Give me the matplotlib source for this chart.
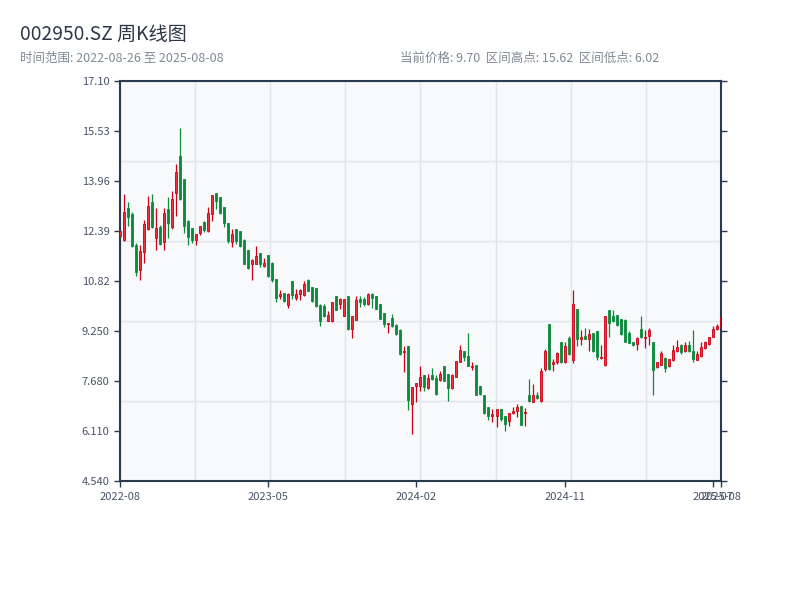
import pandas as pd
import numpy as np
import matplotlib
matplotlib.use('Agg')
import matplotlib.pyplot as plt

plt.rcParams['font.family'] = ['Noto Sans CJK SC', 'DejaVu Sans']

# weekly OHLC, 002950.SZ
opens = [12.25, 12.12, 13.11, 12.94, 11.94, 11.18, 11.73, 12.45, 13.30, 12.18,
         12.52, 12.05, 13.07, 12.52, 13.57, 14.74, 14.04, 12.70, 12.50, 12.12,
         12.33, 12.68, 12.39, 12.94, 13.57, 13.45, 13.13, 12.63, 12.05, 12.46,
         12.38, 12.10, 11.79, 11.37, 11.37, 11.71, 11.28, 11.63, 11.40, 10.88,
         10.34, 10.46, 10.08, 10.82, 10.30, 10.40, 10.37, 10.86, 10.63, 10.61,
         10.07, 10.03, 9.58, 9.56, 10.36, 10.11, 9.74, 10.36, 9.32, 9.60,
         10.25, 10.27, 10.09, 10.40, 10.36, 10.09, 9.83, 9.46, 9.67, 9.45,
         9.29, 8.59, 8.77, 6.96, 7.52, 7.52, 7.88, 7.45, 7.86, 7.78,
         7.72, 8.14, 7.91, 7.47, 7.82, 8.29, 8.64, 8.48, 8.12, 8.19,
         7.54, 7.26, 6.88, 6.60, 6.60, 6.81, 6.60, 6.44, 6.67, 6.75,
         6.91, 6.67, 7.23, 7.04, 7.26, 7.05, 8.06, 9.48, 8.22, 8.27,
         8.90, 8.27, 9.04, 8.33, 9.95, 9.01, 9.11, 9.01, 9.20, 9.24,
         8.41, 8.20, 9.90, 9.71, 9.77, 9.64, 9.60, 9.20, 8.90, 8.85,
         9.32, 9.03, 9.10, 8.92, 8.12, 8.20, 8.41, 8.14, 8.33, 8.64,
         8.80, 8.64, 8.80, 8.64, 8.35, 8.48, 8.72, 8.85, 9.08, 9.32,
         9.42]
closes = [12.38, 12.99, 12.82, 11.92, 11.09, 11.76, 12.60, 13.19, 12.52, 12.48,
          12.00, 12.96, 12.64, 13.41, 14.23, 13.41, 12.54, 12.20, 12.12, 12.31,
          12.54, 12.41, 12.97, 13.52, 13.34, 12.96, 12.63, 12.08, 12.29, 12.07,
          11.92, 11.37, 11.24, 11.49, 11.60, 11.37, 11.39, 10.97, 10.84, 10.30,
          10.42, 10.21, 10.42, 10.37, 10.40, 10.53, 10.74, 10.51, 10.19, 10.03,
          9.58, 9.72, 9.77, 10.15, 9.92, 10.25, 10.25, 9.32, 9.74, 10.24,
          10.16, 10.11, 10.40, 10.30, 9.95, 9.64, 9.48, 9.51, 9.40, 9.17,
          8.54, 8.64, 7.10, 7.51, 7.61, 7.80, 7.51, 7.79, 7.74, 7.28,
          7.91, 7.70, 7.47, 7.88, 8.30, 8.66, 8.43, 8.15, 8.17, 7.23,
          7.28, 6.67, 6.60, 6.65, 6.81, 6.49, 6.34, 6.67, 6.75, 6.86,
          6.31, 6.72, 7.05, 7.23, 7.15, 7.99, 8.64, 8.06, 8.27, 8.56,
          8.27, 8.77, 8.54, 10.11, 9.00, 9.08, 9.01, 9.17, 8.62, 8.45,
          8.45, 9.71, 9.50, 9.58, 9.43, 9.17, 8.92, 8.87, 8.80, 9.04,
          9.06, 9.08, 9.29, 8.03, 8.27, 8.56, 8.10, 8.38, 8.66, 8.74,
          8.59, 8.80, 8.64, 8.38, 8.54, 8.74, 8.90, 9.08, 9.32, 9.40,
          9.70]
highs = [12.45, 13.55, 13.30, 13.00, 12.03, 11.94, 12.75, 13.48, 13.55, 13.11,
         12.57, 13.10, 13.46, 13.64, 14.49, 15.62, 14.04, 12.73, 12.50, 12.31,
         12.56, 12.72, 13.13, 13.52, 13.57, 13.45, 13.13, 12.63, 12.45, 12.46,
         12.38, 12.13, 11.79, 11.50, 11.91, 11.71, 11.53, 11.65, 11.41, 10.90,
         10.55, 10.46, 10.46, 10.82, 10.57, 10.57, 10.81, 10.89, 10.63, 10.61,
         10.10, 10.10, 9.88, 10.15, 10.36, 10.28, 10.25, 10.36, 9.74, 10.36,
         10.36, 10.32, 10.44, 10.44, 10.36, 10.09, 9.83, 9.51, 9.80, 9.47,
         9.33, 8.77, 8.77, 7.51, 7.63, 8.17, 7.88, 7.91, 8.10, 7.86,
         8.01, 8.14, 7.91, 7.90, 8.30, 8.83, 8.64, 9.20, 8.29, 8.19,
         7.54, 7.26, 6.88, 6.81, 6.81, 6.81, 6.60, 6.67, 6.86, 6.96,
         6.91, 6.83, 7.75, 7.59, 7.33, 8.10, 8.70, 9.48, 8.38, 8.59,
         8.90, 8.90, 9.10, 10.55, 9.95, 9.29, 9.34, 9.32, 9.20, 9.24,
         8.83, 9.74, 9.90, 9.92, 9.77, 9.64, 9.62, 9.24, 8.90, 9.06,
         9.71, 9.27, 9.34, 8.92, 8.28, 8.64, 8.43, 8.38, 8.83, 8.98,
         8.85, 8.90, 8.94, 9.29, 8.64, 8.90, 8.94, 9.08, 9.40, 9.46,
         9.96]
lows = [12.20, 12.08, 12.54, 11.90, 10.99, 10.84, 11.39, 12.42, 12.50, 11.81,
        11.94, 11.81, 12.18, 12.44, 12.86, 13.35, 12.33, 11.96, 12.03, 11.95,
        12.26, 12.36, 12.37, 12.71, 13.08, 12.94, 12.52, 12.02, 11.89, 12.00,
        11.90, 11.35, 11.20, 10.84, 11.35, 11.26, 11.25, 10.95, 10.78, 10.16,
        10.26, 10.16, 9.97, 10.27, 10.24, 10.24, 10.35, 10.50, 10.17, 10.00,
        9.40, 9.70, 9.56, 9.55, 9.90, 9.96, 9.72, 9.29, 9.03, 9.60,
        10.00, 10.05, 10.07, 9.98, 9.93, 9.62, 9.37, 9.19, 9.38, 9.14,
        8.50, 7.96, 6.79, 6.02, 7.04, 7.38, 7.38, 7.42, 7.72, 7.26,
        7.67, 7.69, 7.05, 7.44, 7.80, 8.27, 8.30, 8.15, 8.03, 7.23,
        7.26, 6.66, 6.46, 6.39, 6.23, 6.42, 6.13, 6.28, 6.65, 6.54,
        6.30, 6.28, 7.02, 7.02, 7.12, 7.02, 8.01, 8.04, 7.99, 8.22,
        8.25, 8.25, 8.50, 8.24, 8.78, 8.80, 8.99, 8.64, 8.60, 8.35,
        8.38, 8.17, 9.08, 9.55, 9.40, 9.14, 8.92, 8.87, 8.77, 8.67,
        9.04, 8.73, 8.80, 7.23, 8.10, 8.18, 7.96, 8.12, 8.30, 8.59,
        8.52, 8.61, 8.59, 8.27, 8.33, 8.45, 8.69, 8.80, 9.08, 9.30,
        9.38]

# weeks with no trading (National Day / Spring Festival)
closed_weeks = ['2022-10-07', '2023-01-27', '2023-10-06', '2024-02-16']
dates = pd.date_range('2022-08-26', '2025-08-08', freq='W-FRI')
dates = dates.drop(pd.to_datetime(closed_weeks))

o = np.array(opens)
c = np.array(closes)
h = np.array(highs)
l = np.array(lows)
n = len(c)
x = np.arange(n)

up_face = '#f0323c'
up_edge = '#cc0016'
down_col = '#0b8a3c'
dark = '#2b3a4e'

fig = plt.figure(figsize=(8, 6), dpi=100)
pos = [0.15, 0.198, 0.751, 0.667]

# background grid panel
gax = fig.add_axes(pos, zorder=0)
gax.set_facecolor('#f7f9fb')
gax.set_xlim(0, 1)
gax.set_ylim(0, 1)
gax.set_xticks(np.linspace(0, 1, 9))
gax.set_yticks(np.linspace(0, 1, 6))
gax.grid(True, color='#e1e5eb', lw=1)
gax.tick_params(length=0, labelbottom=False, labelleft=False)
for s in gax.spines.values():
    s.set_visible(False)

ax = fig.add_axes(pos, zorder=1)
ax.set_facecolor('none')

up = c >= o
w = 0.5
ax.vlines(x[up], l[up], h[up], color=up_edge, lw=0.9, zorder=2)
ax.vlines(x[~up], l[~up], h[~up], color=down_col, lw=0.9, zorder=2)
body_lo = np.minimum(o, c)
body_h = np.maximum(np.abs(c - o), 0.03)
ax.bar(x[up], body_h[up], w, bottom=body_lo[up], color=up_face,
       edgecolor=up_edge, lw=0.6, zorder=3)
ax.bar(x[~up], body_h[~up], w, bottom=body_lo[~up], color=down_col,
       edgecolor=down_col, lw=0.6, zorder=3)

ax.set_xlim(0, n - 1)
ax.set_ylim(4.54, 17.10)
yt = np.linspace(4.54, 17.10, 9)
ax.set_yticks(yt)
ax.set_yticklabels(['%#.4g' % v for v in yt])
step = (n - 1) // 4
xt = list(range(0, n, step))
if xt[-1] != n - 1:
    xt.append(n - 1)
ax.set_xticks(xt)
ax.set_xticklabels([dates[i].strftime('%Y-%m') for i in xt])

for s in ax.spines.values():
    s.set_color(dark)
    s.set_linewidth(1.5)
ax.tick_params(axis='both', colors=dark, labelcolor='#4a5568', labelsize=8,
               length=4, width=1)
ax.tick_params(axis='y', right=True, labelright=False)
ax.tick_params(axis='x', pad=4)

fig.text(0.025, 0.942, '002950.SZ 周K线图', fontsize=13.8, color='#2d3748', va='center')
fig.text(0.025, 0.903, '时间范围: %s 至 %s' % (dates[0].strftime('%Y-%m-%d'),
                                            dates[-1].strftime('%Y-%m-%d')),
         fontsize=9, color='#808a96', va='center')
fig.text(0.5, 0.903, '当前价格: %.2f  区间高点: %.2f  区间低点: %.2f' % (c[-1], h.max(), l.min()),
         fontsize=9, color='#808a96', va='center')

fig.savefig('out.png', dpi=100)
